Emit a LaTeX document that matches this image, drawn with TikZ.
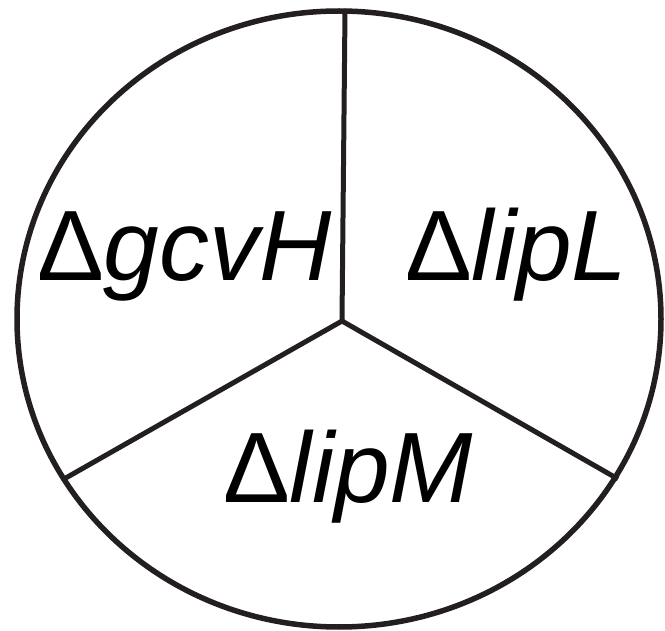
\documentclass[tikz,border=0pt]{standalone}
\usepackage{fontspec}
\setmainfont{Liberation Sans}
\usetikzlibrary{positioning,calc}
\definecolor{inkblack}{HTML}{231F20}

\begin{document}
\begin{tikzpicture}[
  x=1pt, y=-1pt,
  wall/.style={draw=inkblack, line width=5pt},
  mutant/.style={anchor=base west, inner sep=0pt,
                 font=\fontsize{100}{105}\selectfont},
]
\useasboundingbox (0,0) rectangle (665,631);

% outer circle
\coordinate (mid) at (339,319);
\draw[wall, line width=5.5pt] (mid) ellipse [x radius=322, y radius=308];

% dividers
\coordinate (hub) at (342,321);
\coordinate (top) at (345,11);
\coordinate (botleft) at (64,479);
\coordinate (botright) at (618,479);
\draw[wall, line cap=round] (top) -- (hub) -- (botleft);
\draw[wall] (hub) -- (botright);

% labels
\node[mutant] (gcvh) at (37,281) {Δ\textit{gcvH}};
\node[mutant] (lipl) at (405,281) {Δ\textit{lipL}};
\node[mutant] (lipm) at (223,503) {Δ\textit{lipM}};

\end{tikzpicture}
\end{document}
